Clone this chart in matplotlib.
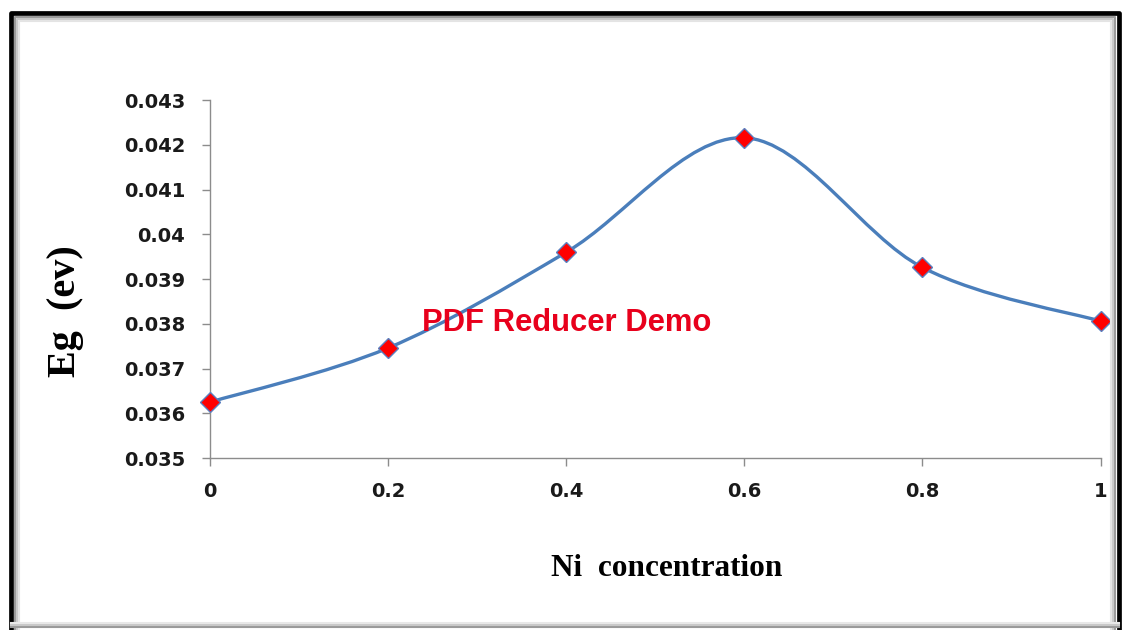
import numpy as np
import matplotlib
matplotlib.use("Agg")
import matplotlib.pyplot as plt
from matplotlib.path import Path
from matplotlib.patches import PathPatch
from matplotlib.lines import Line2D

# Data
ni_conc = [0, 0.2, 0.4, 0.6, 0.8, 1]
eg_ev = [0.03625, 0.03746, 0.03960, 0.04216, 0.03926, 0.03806]
x_ticks = [0, 0.2, 0.4, 0.6, 0.8, 1]
x_tick_labels = ["0", "0.2", "0.4", "0.6", "0.8", "1"]
y_ticks = [0.035, 0.036, 0.037, 0.038, 0.039, 0.04, 0.041, 0.042, 0.043]
y_tick_labels = ["0.035", "0.036", "0.037", "0.038", "0.039", "0.04", "0.041", "0.042", "0.043"]

fig = plt.figure(figsize=(11.23, 6.30), dpi=100)
ax = fig.add_axes([0.187, 0.273, 0.793, 0.568])

# Excel-style smoothed line: cubic bezier through the points
pts = np.column_stack([ni_conc, eg_ev])
verts = [tuple(pts[0])]
codes = [Path.MOVETO]
n = len(pts)
for i in range(n - 1):
    p0 = pts[max(i - 1, 0)]
    p1 = pts[i]
    p2 = pts[i + 1]
    p3 = pts[min(i + 2, n - 1)]
    c1 = p1 + (p2 - p0) / 6.0
    c2 = p2 - (p3 - p1) / 6.0
    verts += [tuple(c1), tuple(c2), tuple(p2)]
    codes += [Path.CURVE4] * 3
curve = PathPatch(Path(verts, codes), facecolor="none", edgecolor="#4a7ebb",
                  lw=2.4, zorder=2)
ax.add_patch(curve)

ax.plot(ni_conc, eg_ev, linestyle="none", marker="D", markersize=10.5,
        markerfacecolor="#ff0000", markeredgecolor="#5b7fbf",
        markeredgewidth=1.0, zorder=3, clip_on=False)

ax.set_xlim(0, 1)
ax.set_ylim(0.035, 0.043)
ax.set_xticks(x_ticks)
ax.set_xticklabels(x_tick_labels)
ax.set_yticks(y_ticks)
ax.set_yticklabels(y_tick_labels)

for side in ["top", "right"]:
    ax.spines[side].set_visible(False)
for side in ["left", "bottom"]:
    ax.spines[side].set_color("#8c8c8c")
    ax.spines[side].set_linewidth(1.0)

ax.tick_params(axis="both", direction="out", length=6, width=1.0,
               color="#8c8c8c", labelsize=14)
ax.tick_params(axis="x", pad=11)
ax.tick_params(axis="y", pad=12)
for lbl in ax.get_xticklabels() + ax.get_yticklabels():
    lbl.set_fontfamily("DejaVu Sans")
    lbl.set_fontweight("bold")
    lbl.set_color("#1a1a1a")

# axis titles placed like the original
fig.text(667 / 1123, 1 - 568 / 630, "Ni  concentration",
         fontfamily="Liberation Serif", fontweight="bold", fontsize=22.5,
         ha="center", va="center")
fig.text(66 / 1123, 1 - 311 / 630, "Eg  (ev)", rotation=90,
         fontfamily="Liberation Serif", fontweight="bold", fontsize=29,
         ha="center", va="center")

# watermark
fig.text(567 / 1123, 1 - 323 / 630, "PDF Reducer Demo", color="#e8001c",
         fontfamily="Liberation Sans", fontweight="bold", fontsize=22.3,
         ha="center", va="center")

# picture frame with shadow
fx0, fx1 = 10.5 / 1123, 1118.5 / 1123
fy1 = 1 - 12.5 / 630
fy0 = -0.05
for off, col, lw in [(0, "black", 3.4), (4, "#9a9a9a", 1.5), (6, "#c8c8c8", 1.5),
                     (8, "#e4e4e4", 1.5)]:
    dx = off / 1123
    dy = off / 630
    fig.add_artist(Line2D([fx0 + dx, fx0 + dx, fx1 - dx, fx1 - dx],
                          [fy0, fy1 - dy, fy1 - dy, fy0],
                          color=col, lw=lw, transform=fig.transFigure))
for off, col in [(3, "#9a9a9a"), (5, "#c8c8c8"), (7, "#e8e8e8")]:
    dy = off / 630
    fig.add_artist(Line2D([fx0, fx1], [dy, dy], color=col, lw=1.5,
                          transform=fig.transFigure))

fig.savefig("out.png", dpi=100)
